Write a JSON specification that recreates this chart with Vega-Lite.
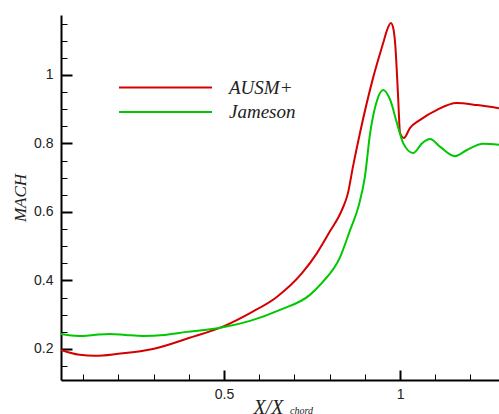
{
  "$schema": "https://vega.github.io/schema/vega-lite/v6.json",
  "autosize": "none",
  "width": 438,
  "height": 365,
  "padding": {"left": 61, "top": 15, "right": 0, "bottom": 34},
  "background": "white",
  "config": {"view": {"stroke": null}},
  "resolve": {"axis": {"x": "independent", "y": "independent"}},
  "data": {"values": [
    {"x": 0.037, "mach": 0.197, "scheme": "AUSM+"},
    {"x": 0.06, "mach": 0.19, "scheme": "AUSM+"},
    {"x": 0.09, "mach": 0.183, "scheme": "AUSM+"},
    {"x": 0.134, "mach": 0.18, "scheme": "AUSM+"},
    {"x": 0.2, "mach": 0.186, "scheme": "AUSM+"},
    {"x": 0.298, "mach": 0.2, "scheme": "AUSM+"},
    {"x": 0.4, "mach": 0.232, "scheme": "AUSM+"},
    {"x": 0.5, "mach": 0.267, "scheme": "AUSM+"},
    {"x": 0.574, "mach": 0.305, "scheme": "AUSM+"},
    {"x": 0.65, "mach": 0.352, "scheme": "AUSM+"},
    {"x": 0.722, "mach": 0.422, "scheme": "AUSM+"},
    {"x": 0.764, "mach": 0.48, "scheme": "AUSM+"},
    {"x": 0.8, "mach": 0.542, "scheme": "AUSM+"},
    {"x": 0.835, "mach": 0.606, "scheme": "AUSM+"},
    {"x": 0.852, "mach": 0.655, "scheme": "AUSM+"},
    {"x": 0.866, "mach": 0.731, "scheme": "AUSM+"},
    {"x": 0.886, "mach": 0.83, "scheme": "AUSM+"},
    {"x": 0.923, "mach": 0.99, "scheme": "AUSM+"},
    {"x": 0.952, "mach": 1.093, "scheme": "AUSM+"},
    {"x": 0.963, "mach": 1.131, "scheme": "AUSM+"},
    {"x": 0.974, "mach": 1.152, "scheme": "AUSM+"},
    {"x": 0.981, "mach": 1.135, "scheme": "AUSM+"},
    {"x": 0.986, "mach": 1.093, "scheme": "AUSM+"},
    {"x": 0.994, "mach": 0.947, "scheme": "AUSM+"},
    {"x": 1.0, "mach": 0.83, "scheme": "AUSM+"},
    {"x": 1.011, "mach": 0.816, "scheme": "AUSM+"},
    {"x": 1.028, "mach": 0.845, "scheme": "AUSM+"},
    {"x": 1.057, "mach": 0.869, "scheme": "AUSM+"},
    {"x": 1.105, "mach": 0.898, "scheme": "AUSM+"},
    {"x": 1.16, "mach": 0.918, "scheme": "AUSM+"},
    {"x": 1.219, "mach": 0.912, "scheme": "AUSM+"},
    {"x": 1.281, "mach": 0.903, "scheme": "AUSM+"},
    {"x": 0.037, "mach": 0.244, "scheme": "Jameson"},
    {"x": 0.06, "mach": 0.24, "scheme": "Jameson"},
    {"x": 0.091, "mach": 0.238, "scheme": "Jameson"},
    {"x": 0.13, "mach": 0.241, "scheme": "Jameson"},
    {"x": 0.176, "mach": 0.244, "scheme": "Jameson"},
    {"x": 0.22, "mach": 0.241, "scheme": "Jameson"},
    {"x": 0.27, "mach": 0.238, "scheme": "Jameson"},
    {"x": 0.33, "mach": 0.241, "scheme": "Jameson"},
    {"x": 0.395, "mach": 0.25, "scheme": "Jameson"},
    {"x": 0.45, "mach": 0.256, "scheme": "Jameson"},
    {"x": 0.5, "mach": 0.264, "scheme": "Jameson"},
    {"x": 0.574, "mach": 0.282, "scheme": "Jameson"},
    {"x": 0.659, "mach": 0.314, "scheme": "Jameson"},
    {"x": 0.744, "mach": 0.358, "scheme": "Jameson"},
    {"x": 0.778, "mach": 0.393, "scheme": "Jameson"},
    {"x": 0.83, "mach": 0.469, "scheme": "Jameson"},
    {"x": 0.858, "mach": 0.547, "scheme": "Jameson"},
    {"x": 0.883, "mach": 0.62, "scheme": "Jameson"},
    {"x": 0.9, "mach": 0.702, "scheme": "Jameson"},
    {"x": 0.915, "mach": 0.83, "scheme": "Jameson"},
    {"x": 0.935, "mach": 0.927, "scheme": "Jameson"},
    {"x": 0.952, "mach": 0.956, "scheme": "Jameson"},
    {"x": 0.972, "mach": 0.927, "scheme": "Jameson"},
    {"x": 0.991, "mach": 0.86, "scheme": "Jameson"},
    {"x": 1.009, "mach": 0.801, "scheme": "Jameson"},
    {"x": 1.037, "mach": 0.772, "scheme": "Jameson"},
    {"x": 1.063, "mach": 0.801, "scheme": "Jameson"},
    {"x": 1.085, "mach": 0.813, "scheme": "Jameson"},
    {"x": 1.114, "mach": 0.79, "scheme": "Jameson"},
    {"x": 1.156, "mach": 0.763, "scheme": "Jameson"},
    {"x": 1.19, "mach": 0.781, "scheme": "Jameson"},
    {"x": 1.236, "mach": 0.799, "scheme": "Jameson"},
    {"x": 1.281, "mach": 0.796, "scheme": "Jameson"}
  ]},
  "layer": [
    {
      "mark": {"type": "line", "strokeOpacity": 0, "clip": true},
      "encoding": {
        "x": {
          "field": "x", "type": "quantitative",
          "scale": {"domain": [0.037, 1.281], "nice": false, "zero": false},
          "axis": {
            "orient": "bottom",
            "values": [0.1, 0.2, 0.3, 0.4, 0.6, 0.7, 0.8, 0.9, 1.1, 1.2],
            "grid": false, "domain": false, "labels": false, "title": null,
            "tickColor": "black", "tickSize": -6, "tickWidth": 1
          }
        },
        "y": {
          "field": "mach", "type": "quantitative",
          "scale": {"domain": [0.1095, 1.175], "nice": false, "zero": false},
          "axis": {
            "orient": "left",
            "values": [0.15, 0.25, 0.3, 0.35, 0.45, 0.5, 0.55, 0.65, 0.7, 0.75, 0.85, 0.9, 0.95, 1.05, 1.1, 1.15],
            "grid": false, "domain": false, "labels": false, "title": null,
            "tickColor": "black", "tickSize": -6, "tickWidth": 1
          }
        },
        "detail": {"field": "scheme"}
      }
    },
    {
      "mark": {"type": "line", "interpolate": "monotone", "strokeWidth": 2, "clip": true},
      "encoding": {
        "x": {
          "field": "x", "type": "quantitative",
          "scale": {"domain": [0.037, 1.281], "nice": false, "zero": false},
          "axis": {
            "orient": "bottom",
            "values": [0.5, 1],
            "format": "~g",
            "grid": false,
            "domainColor": "black", "domainWidth": 2,
            "tickColor": "black", "tickSize": -10, "tickWidth": 2,
            "labelFont": "Liberation Sans", "labelFontSize": 14, "labelColor": "#222",
            "labelPadding": 17, "labelFlush": false,
            "title": "X/X", "titleFont": "Liberation Serif", "titleFontStyle": "italic",
            "titleFontWeight": "normal", "titleFontSize": 20, "titleColor": "#222",
            "titleAnchor": "start", "titleAlign": "left", "titleBaseline": "alphabetic",
            "titleX": 192, "titleY": 33
          }
        },
        "y": {
          "field": "mach", "type": "quantitative",
          "scale": {"domain": [0.1095, 1.175], "nice": false, "zero": false},
          "axis": {
            "orient": "left",
            "values": [0.2, 0.4, 0.6, 0.8, 1],
            "format": "~g",
            "grid": false,
            "domainColor": "black", "domainWidth": 2,
            "tickColor": "black", "tickSize": -11, "tickWidth": 2,
            "labelFont": "Liberation Sans", "labelFontSize": 14, "labelColor": "#222",
            "labelPadding": 19, "labelFlush": false,
            "title": "MACH", "titleFont": "Liberation Serif", "titleFontStyle": "italic",
            "titleFontWeight": "normal", "titleFontSize": 17, "titleColor": "#222",
            "titleAngle": -90, "titleX": -41, "titleBaseline": "middle"
          }
        },
        "color": {
          "field": "scheme", "type": "nominal",
          "scale": {"domain": ["AUSM+", "Jameson"], "range": ["#d40000", "#00c800"]},
          "legend": {
            "title": null, "orient": "none", "legendX": 94, "legendY": 62,
            "padding": 0, "rowPadding": 3.4,
            "symbolType": "M-5,0L5,0", "symbolSize": 346, "symbolStrokeWidth": 2,
            "symbolFillColor": "transparent",
            "labelFont": "Liberation Serif", "labelFontStyle": "italic",
            "labelFontSize": 19, "labelColor": "#222", "labelOffset": 53
          }
        }
      }
    },
    {
      "data": {"values": [{}]},
      "mark": {"type": "text", "text": "chord", "font": "Liberation Serif", "fontStyle": "italic", "fontSize": 10, "color": "#222", "align": "left", "baseline": "alphabetic"},
      "encoding": {
        "x": {"datum": 0.6875, "type": "quantitative", "axis": null},
        "y": {"datum": 0.0095, "type": "quantitative", "axis": null}
      }
    }
  ]
}
